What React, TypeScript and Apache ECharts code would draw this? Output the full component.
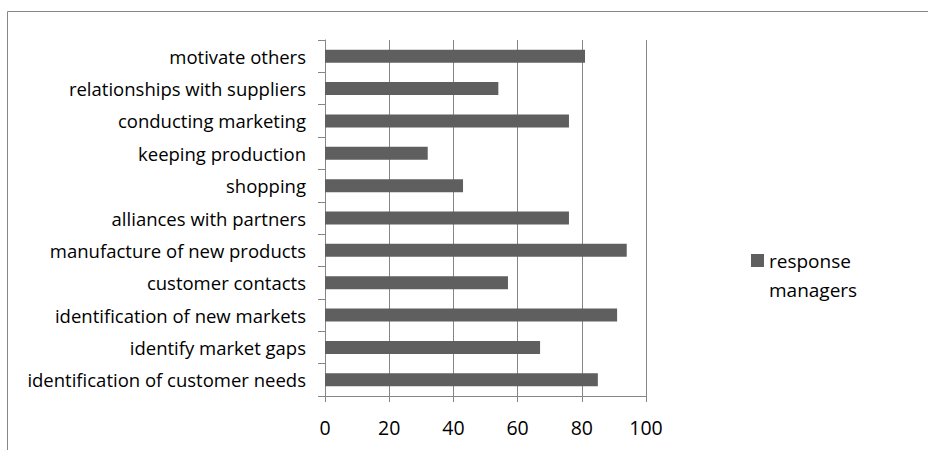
import React, { useEffect, useRef } from "react";
import * as echarts from "echarts";

// Categories listed top to bottom as they appear on the chart
const categories = [
  "motivate others",
  "relationships with suppliers",
  "conducting marketing",
  "keeping production",
  "shopping",
  "alliances with partners",
  "manufacture of new products",
  "customer contacts",
  "identification of new markets",
  "identify market gaps",
  "identification of customer needs",
];

const responseManagers = [81, 54, 76, 32, 43, 76, 94, 57, 91, 67, 85];

const seriesName = "response managers";
const xTicks = { min: 0, max: 100, interval: 20 };

const FONT = "'Open Sans', Lato, sans-serif";
const GRID_GRAY = "#868686";
const BAR_GRAY = "#5f5f5f";

export default function App() {
  const ref = useRef<HTMLDivElement>(null);

  useEffect(() => {
    if (!ref.current) return;
    const chart = echarts.init(ref.current, null, { renderer: "svg" });
    chart.setOption({
      animation: false,
      backgroundColor: "#ffffff",
      grid: { left: 325, right: 282, top: 40, bottom: 54, containLabel: false },
      legend: {
        show: true,
        left: 751,
        top: 246,
        padding: 0,
        orient: "vertical",
        itemWidth: 13,
        itemHeight: 58,
        // square placed beside the first of the two text lines
        icon: "path://M0,0L0.001,0 M0,8H13V21H0Z M0,58L0.001,58",
        formatter: (name: string) => name.replace(" ", "\n"),
        textStyle: {
          fontFamily: FONT,
          fontSize: 19,
          lineHeight: 29,
          color: "#000000",
        },
        data: [seriesName],
      },
      graphic: [
        {
          type: "rect",
          shape: { x: 7.5, y: 11.5, width: 1200, height: 1000 },
          style: { fill: "none", stroke: GRID_GRAY, lineWidth: 1 },
          silent: true,
          z: -1,
        },
      ],
      xAxis: {
        type: "value",
        min: xTicks.min,
        max: xTicks.max,
        interval: xTicks.interval,
        axisLine: { show: true, onZero: false, lineStyle: { color: GRID_GRAY, width: 1 } },
        axisTick: { show: true, length: 6, lineStyle: { color: GRID_GRAY } },
        splitLine: { show: true, lineStyle: { color: GRID_GRAY, width: 1 } },
        axisLabel: {
          fontFamily: FONT,
          fontSize: 19.5,
          color: "#000000",
          margin: 21,
        },
      },
      yAxis: {
        type: "category",
        inverse: true,
        data: categories,
        axisLine: { show: true, lineStyle: { color: GRID_GRAY, width: 1 } },
        axisTick: { show: true, length: 7, lineStyle: { color: GRID_GRAY } },
        splitLine: { show: false },
        axisLabel: {
          fontFamily: FONT,
          fontSize: 18.5,
          color: "#000000",
          margin: 19,
        },
      },
      series: [
        {
          name: seriesName,
          type: "bar",
          data: responseManagers,
          barWidth: 13,
          itemStyle: { color: BAR_GRAY },
        },
      ],
    });
    return () => chart.dispose();
  }, []);

  return (
    <div
      ref={ref}
      style={{ position: "fixed", left: 0, top: 0, width: 928, height: 450 }}
    />
  );
}
